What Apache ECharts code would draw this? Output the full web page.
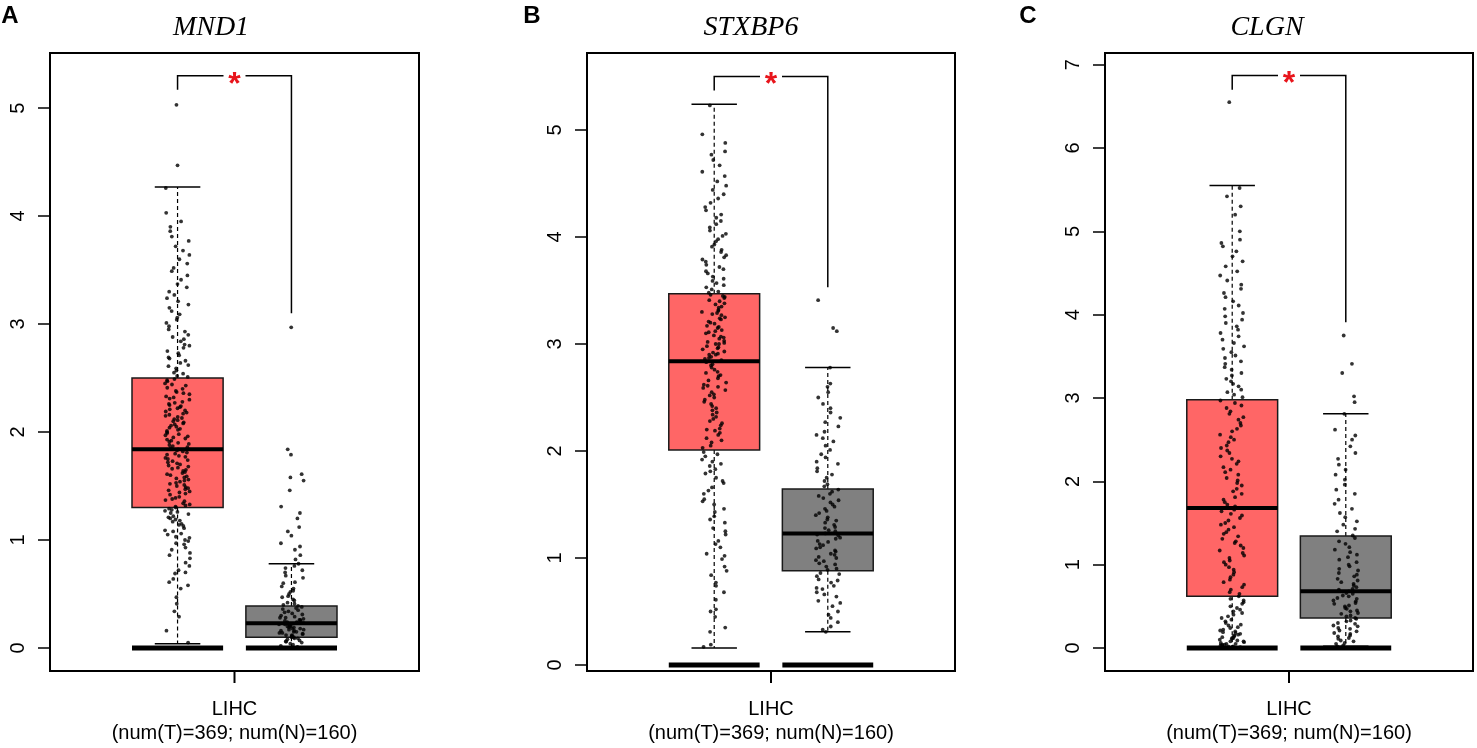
<!DOCTYPE html>
<html>
<head>
<meta charset="utf-8">
<title>LIHC expression boxplots</title>
<script src="https://cdn.jsdelivr.net/npm/echarts@6/dist/echarts.min.js"></script>
<style>
  html, body { margin: 0; padding: 0; background: #fff; }
  #main { width: 1477px; height: 748px; }
</style>
</head>
<body>
<div id="main"></div>
<script>
// panel labels and text
const genes = ['MND1', 'STXBP6', 'CLGN'];
const panelTags = ['A', 'B', 'C'];
const cancerType = 'LIHC';
const sampleNote = '(num(T)=369; num(N)=160)';

// y tick labels per panel
const ticksA = [0, 1, 2, 3, 4, 5];
const ticksB = [0, 1, 2, 3, 4, 5];
const ticksC = [0, 1, 2, 3, 4, 5, 6, 7];

// box stats: [lower whisker, Q1, median, Q3, upper whisker]
const mnd1Tumor = [0.04, 1.3, 1.84, 2.5, 4.27];
const mnd1Normal = [0.0, 0.1, 0.23, 0.39, 0.78];
const stxbp6Tumor = [0.16, 2.01, 2.84, 3.47, 5.24];
const stxbp6Normal = [0.31, 0.88, 1.23, 1.645, 2.78];
const clgnTumor = [0.0, 0.62, 1.68, 2.98, 5.55];
const clgnNormal = [0.02, 0.36, 0.68, 1.345, 2.81];

// level of the heavy bar drawn under each box
const floorLevel = 0;

// significance bracket: [top, left leg end, right leg end]
const sigA = [5.3, 5.17, 3.1];
const sigB = [5.5, 5.37, 3.53];
const sigC = [6.87, 6.7, 3.91];

// individual samples (estimated from the dots)
const mnd1TumorPts = [0.05, 0.16, 0.29, 0.34, 0.47, 0.55, 0.61, 0.64, 0.72, 0.76, 0.79, 0.86, 0.88, 0.93, 0.97, 0.99,
  1.03, 1.06, 1.08, 1.11, 1.14, 1.15, 1.19, 1.21, 1.22, 1.26, 1.27, 1.29, 1.31, 1.33, 1.34, 1.38, 1.39, 1.42, 1.44,
  1.45, 1.48, 1.5, 1.51, 1.54, 1.56, 1.57, 1.6, 1.62, 1.63, 1.66, 1.67, 1.69, 1.72, 1.73, 1.75, 1.77, 1.78, 1.8, 1.81,
  1.83, 1.85, 1.87, 1.88, 1.91, 1.93, 1.94, 1.97, 1.99, 2.01, 2.03, 2.06, 2.07, 2.1, 2.12, 2.14, 2.16, 2.19, 2.21,
  2.23, 2.26, 2.28, 2.31, 2.33, 2.36, 2.38, 2.41, 2.44, 2.47, 2.49, 2.52, 2.55, 2.59, 2.62, 2.66, 2.69, 2.73, 2.78,
  2.81, 2.86, 2.9, 2.95, 3.01, 3.06, 3.12, 3.18, 3.24, 3.3, 3.37, 3.45, 3.52, 3.6, 3.68, 3.77, 3.86, 3.95, 4.03,
  4.26, 4.47, 5.03,
  0.41, 0.58, 0.69, 0.83, 0.91, 0.96, 1.02, 1.05, 1.09, 1.13, 1.17, 1.2, 1.24, 1.28, 1.3, 1.32, 1.36, 1.37, 1.4,
  1.43, 1.46, 1.47, 1.49, 1.52, 1.53, 1.55, 1.58, 1.59, 1.61, 1.64, 1.65, 1.68, 1.7, 1.71, 1.74, 1.76, 1.79, 1.82,
  1.84, 1.86, 1.89, 1.9, 1.92, 1.95, 1.96, 1.98, 2.0, 2.02, 2.04, 2.05, 2.08, 2.09, 2.11, 2.13, 2.15, 2.17, 2.18,
  2.2, 2.22, 2.24, 2.25, 2.27, 2.3, 2.32, 2.35, 2.37, 2.4, 2.43, 2.45, 2.48, 2.51, 2.54, 2.57, 2.61, 2.64, 2.68,
  2.71, 2.75, 2.8, 2.84, 2.88, 2.93, 2.98, 3.04, 3.09, 3.15, 3.21, 3.27, 3.34, 3.41, 3.49, 3.56, 3.64, 3.72, 3.81,
  3.9, 0.7, 1.0, 1.18, 1.25];
const mnd1NormalPts = [0.01, 0.03, 0.04, 0.06, 0.07, 0.09, 0.1, 0.11, 0.12, 0.14, 0.15, 0.16, 0.17, 0.18, 0.2, 0.21,
  0.22, 0.23, 0.24, 0.25, 0.26, 0.28, 0.29, 0.31, 0.33, 0.35, 0.36, 0.38, 0.4, 0.42, 0.45, 0.48, 0.5, 0.53, 0.57,
  0.61, 0.65, 0.7, 0.74, 0.78, 0.86, 0.91, 0.97, 1.04, 1.12, 1.2, 1.31, 1.46, 1.55, 1.61, 1.79, 1.84, 2.97,
  0.02, 0.05, 0.06, 0.08, 0.09, 0.1, 0.11, 0.12, 0.13, 0.13, 0.14, 0.15, 0.16, 0.17, 0.18, 0.19, 0.19, 0.2, 0.21,
  0.22, 0.23, 0.24, 0.25, 0.26, 0.27, 0.28, 0.3, 0.32, 0.34, 0.37, 0.39, 0.41, 0.44, 0.47, 0.52, 0.55, 0.6, 0.67,
  0.72, 0.76, 0.82, 0.94, 1.08, 1.25, 1.58];
const stxbp6TumorPts = [0.17, 0.19, 0.31, 0.35, 0.45, 0.52, 0.61, 0.74, 0.77, 0.84, 0.92, 0.99, 1.04, 1.1, 1.16, 1.22,
  1.28, 1.33, 1.39, 1.43, 1.5, 1.55, 1.6, 1.66, 1.7, 1.75, 1.79, 1.83, 1.88, 1.92, 1.97, 2.03, 2.08, 2.12, 2.17, 2.21,
  2.26, 2.3, 2.34, 2.38, 2.42, 2.46, 2.5, 2.53, 2.57, 2.61, 2.64, 2.68, 2.71, 2.74, 2.78, 2.81, 2.86, 2.88, 2.91,
  2.93, 2.96, 2.98, 3.01, 3.03, 3.06, 3.08, 3.11, 3.13, 3.16, 3.19, 3.21, 3.24, 3.27, 3.29, 3.32, 3.35, 3.38, 3.41,
  3.44, 3.49, 3.53, 3.57, 3.61, 3.66, 3.7, 3.74, 3.79, 3.83, 3.88, 3.93, 3.98, 4.03, 4.09, 4.15, 4.21, 4.28, 4.36,
  4.44, 4.52, 4.61, 4.72, 4.8, 4.88, 4.96, 5.23,
  0.5, 0.68, 0.88, 1.02, 1.13, 1.25, 1.36, 1.46, 1.53, 1.63, 1.72, 1.81, 1.86, 1.9, 1.95, 1.99, 2.05, 2.1, 2.15,
  2.19, 2.24, 2.28, 2.32, 2.36, 2.4, 2.44, 2.48, 2.52, 2.55, 2.59, 2.62, 2.66, 2.7, 2.73, 2.76, 2.8, 2.83, 2.85,
  2.87, 2.9, 2.92, 2.95, 2.97, 3.0, 3.02, 3.05, 3.07, 3.1, 3.12, 3.15, 3.17, 3.2, 3.23, 3.25, 3.28, 3.31, 3.34,
  3.37, 3.4, 3.43, 3.46, 3.48, 3.51, 3.55, 3.59, 3.63, 3.68, 3.72, 3.77, 3.81, 3.86, 3.91, 3.96, 4.01, 4.06, 4.12,
  4.18, 4.25, 4.32, 4.4, 4.48, 4.57, 4.67, 4.77, 2.2, 2.6, 2.9, 3.0, 3.3, 3.45];
const stxbp6NormalPts = [0.31, 0.33, 0.4, 0.44, 0.5, 0.55, 0.6, 0.64, 0.68, 0.71, 0.74, 0.77, 0.8, 0.83, 0.86, 0.89,
  0.92, 0.95, 0.98, 1.01, 1.04, 1.07, 1.1, 1.13, 1.16, 1.19, 1.22, 1.25, 1.28, 1.31, 1.35, 1.38, 1.42, 1.46, 1.5,
  1.54, 1.58, 1.62, 1.67, 1.72, 1.78, 1.84, 1.9, 1.97, 2.05, 2.12, 2.18, 2.27, 2.36, 2.44, 2.55, 2.63, 2.78, 3.12,
  3.15, 3.41,
  0.36, 0.47, 0.58, 0.66, 0.72, 0.79, 0.85, 0.9, 0.94, 0.97, 1.0, 1.03, 1.06, 1.09, 1.12, 1.15, 1.18, 1.21, 1.23,
  1.26, 1.29, 1.33, 1.36, 1.4, 1.44, 1.48, 1.52, 1.56, 1.6, 1.64, 1.69, 1.75, 1.81, 1.88, 1.94, 2.01, 2.09, 2.15,
  2.23, 2.31, 2.4, 2.5, 2.6];
const clgnTumorPts = [0.01, 0.02, 0.03, 0.04, 0.05, 0.07, 0.08, 0.1, 0.12, 0.14, 0.16, 0.18, 0.21, 0.24, 0.27, 0.3,
  0.34, 0.38, 0.42, 0.46, 0.5, 0.55, 0.59, 0.65, 0.7, 0.76, 0.82, 0.88, 0.94, 1.0, 1.05, 1.11, 1.17, 1.23, 1.28,
  1.34, 1.39, 1.45, 1.5, 1.56, 1.61, 1.66, 1.72, 1.78, 1.85, 1.91, 1.98, 2.04, 2.11, 2.17, 2.24, 2.3, 2.37, 2.43,
  2.5, 2.56, 2.63, 2.7, 2.77, 2.84, 2.91, 2.97, 3.04, 3.1, 3.17, 3.23, 3.3, 3.37, 3.44, 3.51, 3.59, 3.66, 3.74,
  3.82, 3.9, 3.98, 4.07, 4.16, 4.26, 4.36, 4.47, 4.58, 4.7, 4.82, 4.9, 5.3, 5.42, 5.52, 6.55,
  0.0, 0.01, 0.02, 0.03, 0.04, 0.06, 0.09, 0.11, 0.13, 0.15, 0.17, 0.2, 0.22, 0.25, 0.28, 0.32, 0.36, 0.4, 0.44,
  0.48, 0.53, 0.57, 0.62, 0.67, 0.73, 0.79, 0.85, 0.91, 0.97, 1.03, 1.08, 1.14, 1.2, 1.26, 1.31, 1.37, 1.42, 1.48,
  1.53, 1.59, 1.64, 1.7, 1.75, 1.81, 1.88, 1.95, 2.01, 2.08, 2.14, 2.21, 2.27, 2.34, 2.4, 2.47, 2.53, 2.6, 2.67,
  2.74, 2.81, 2.88, 2.94, 3.01, 3.07, 3.14, 3.2, 3.27, 3.34, 3.41, 3.48, 3.55, 3.62, 3.7, 3.78, 3.86, 3.94, 4.02,
  4.11, 4.21, 4.31, 4.41, 4.52, 4.64, 4.76, 4.86, 5.0, 5.2, 0.05, 0.08, 0.12, 0.19];
const clgnNormalPts = [0.02, 0.05, 0.08, 0.11, 0.14, 0.17, 0.2, 0.23, 0.26, 0.29, 0.32, 0.35, 0.38, 0.41, 0.44, 0.47,
  0.5, 0.53, 0.56, 0.59, 0.62, 0.65, 0.68, 0.71, 0.75, 0.79, 0.83, 0.88, 0.93, 0.98, 1.03, 1.09, 1.15, 1.21, 1.28,
  1.35, 1.43, 1.52, 1.62, 1.73, 1.85, 1.96, 2.08, 2.2, 2.34, 2.5, 2.62, 2.81, 2.95, 3.02, 3.3, 3.41, 3.75,
  0.03, 0.06, 0.09, 0.12, 0.15, 0.18, 0.21, 0.24, 0.27, 0.3, 0.33, 0.36, 0.39, 0.42, 0.45, 0.48, 0.51, 0.54, 0.57,
  0.6, 0.63, 0.66, 0.7, 0.73, 0.77, 0.81, 0.86, 0.9, 0.95, 1.0, 1.06, 1.12, 1.18, 1.25, 1.32, 1.4, 1.48, 1.57,
  1.67, 1.78, 1.9, 2.02, 2.14, 2.27, 2.42, 2.55];

const FONT = '"Liberation Sans", Arial, sans-serif';
const tumorColor = '#FF6666';
const normalColor = '#808080';

const panels = [
  { stats: [mnd1Tumor, mnd1Normal], pts: [mnd1TumorPts, mnd1NormalPts], sig: sigA, ticks: ticksA,
    grid: { left: 50, top: 53, width: 369, height: 618 }, yRange: [-0.213, 5.51], titleX: 211, tagX: 10 },
  { stats: [stxbp6Tumor, stxbp6Normal], pts: [stxbp6TumorPts, stxbp6NormalPts], sig: sigB, ticks: ticksB,
    grid: { left: 587, top: 53, width: 368, height: 618 }, yRange: [-0.056, 5.72], titleX: 751, tagX: 532 },
  { stats: [clgnTumor, clgnNormal], pts: [clgnTumorPts, clgnNormalPts], sig: sigC, ticks: ticksC,
    grid: { left: 1105, top: 53, width: 368, height: 618 }, yRange: [-0.276, 7.14], titleX: 1267, tagX: 1028 }
];

// tumor at x=1, normal at x=2
const groupX = [1, 2];

// horizontal spread of the dots only (fixed hash of the index, so every render is identical)
function jitter(i, g) {
  const h = Math.sin((i + 1) * 12.9898 + g * 78.233) * 43758.5453;
  return ((h - Math.floor(h)) - 0.5) * 0.22;
}

function renderBox(params, api) {
  const x = api.value(0);
  const half = api.size([0.4, 0])[0];
  const p = k => api.coord([x, api.value(k)]);
  const lo = p(1), q1 = p(2), md = p(3), q3 = p(4), hi = p(5), base = p(6);
  const cx = lo[0];
  const fill = params.dataIndex === 0 ? tumorColor : normalColor;
  const line = (x1, y1, x2, y2, w, dash) => ({
    type: 'line', shape: { x1, y1, x2, y2 },
    style: { stroke: '#000', lineWidth: w, lineDash: dash || null }
  });
  return {
    type: 'group',
    children: [
      line(cx, q3[1], cx, hi[1], 1.2, [4, 3]),
      line(cx, q1[1], cx, lo[1], 1.2, [4, 3]),
      {
        type: 'rect',
        shape: { x: cx - half, y: q3[1], width: 2 * half, height: q1[1] - q3[1] },
        style: { fill, stroke: '#1a1a1a', lineWidth: 1.5 }
      },
      line(cx - half, md[1], cx + half, md[1], 4),
      line(cx - half / 2, hi[1], cx + half / 2, hi[1], 1.5),
      line(cx - half / 2, lo[1], cx + half / 2, lo[1], 1.5),
      line(cx - half, base[1], cx + half, base[1], 5)
    ]
  };
}

// significance bracket with the red star, plus the single group tick under the frame
function renderBracket(params, api) {
  const x1 = api.value(0), x2 = api.value(1), top = api.value(2);
  const a = api.coord([x1, api.value(3)]);
  const b = api.coord([x1, top]);
  const c = api.coord([x2, top]);
  const d = api.coord([x2, api.value(4)]);
  const mid = (b[0] + c[0]) / 2;
  const gap = 11;
  const cs = params.coordSys;
  const bottom = cs.y + cs.height;
  const st = { stroke: '#000', lineWidth: 1.5, fill: 'none' };
  return {
    type: 'group',
    children: [
      { type: 'polyline', shape: { points: [a, b, [mid - gap, b[1]]] }, style: st },
      { type: 'polyline', shape: { points: [[mid + gap, c[1]], c, d] }, style: st },
      {
        type: 'text', x: mid, y: b[1] + 9,
        style: { text: '*', fill: '#e8141b', font: 'bold 32px ' + FONT, align: 'center', verticalAlign: 'middle' }
      },
      { type: 'line', shape: { x1: mid, y1: bottom, x2: mid, y2: bottom + 12 }, style: { stroke: '#000', lineWidth: 2 } }
    ]
  };
}

const chart = echarts.init(document.getElementById('main'), null, { renderer: 'canvas' });

const grid = [], xAxis = [], yAxis = [], series = [], graphic = [];

panels.forEach((pn, i) => {
  grid.push(Object.assign({ show: true, borderColor: '#000', borderWidth: 2, backgroundColor: 'transparent' }, pn.grid));
  xAxis.push({
    type: 'value', gridIndex: i, min: -0.12, max: 3.12,
    axisLine: { show: true, onZero: false, lineStyle: { color: '#000', width: 2 } },
    splitLine: { show: false },
    axisTick: { show: false },
    axisLabel: {
      customValues: [1.5], margin: 26, color: '#000', fontFamily: FONT, fontSize: 20, lineHeight: 24,
      formatter: () => cancerType + '\n' + sampleNote
    }
  });
  yAxis.push({
    type: 'value', gridIndex: i, min: pn.yRange[0], max: pn.yRange[1],
    axisLine: { show: true, onZero: false, lineStyle: { color: '#000', width: 2 } },
    splitLine: { show: false },
    axisTick: { show: true, customValues: pn.ticks, length: 12, lineStyle: { color: '#000', width: 1.5 } },
    axisLabel: { customValues: pn.ticks, rotate: 90, margin: 22, color: '#000', fontFamily: FONT, fontSize: 20 }
  });

  series.push({
    type: 'custom', xAxisIndex: i, yAxisIndex: i, renderItem: renderBox, z: 2, silent: true,
    data: pn.stats.map((s, g) => [groupX[g]].concat(s, [floorLevel])),
    encode: { x: 0, y: [1, 2, 3, 4, 5] }
  });
  pn.pts.forEach((arr, g) => {
    series.push({
      type: 'scatter', xAxisIndex: i, yAxisIndex: i, z: 3, silent: true,
      symbolSize: 3.8, itemStyle: { color: '#000' },
      data: arr.map((v, k) => [groupX[g] + jitter(k, g + i * 2), v])
    });
  });
  series.push({
    type: 'custom', xAxisIndex: i, yAxisIndex: i, renderItem: renderBracket, z: 4, silent: true,
    data: [[groupX[0], groupX[1]].concat(pn.sig)],
    encode: { x: [0, 1], y: [2, 3, 4] }
  });

  graphic.push({
    type: 'text', x: pn.titleX, y: 28,
    style: { text: genes[i], font: 'italic 28px "Liberation Serif", "Times New Roman", serif', fill: '#000', align: 'center', verticalAlign: 'middle' }
  });
  graphic.push({
    type: 'text', x: pn.tagX, y: 16,
    style: { text: panelTags[i], font: 'bold 24px ' + FONT, fill: '#000', align: 'center', verticalAlign: 'middle' }
  });
});

chart.setOption({
  animation: false,
  backgroundColor: '#fff',
  grid, xAxis, yAxis, series, graphic
});
</script>
</body>
</html>
